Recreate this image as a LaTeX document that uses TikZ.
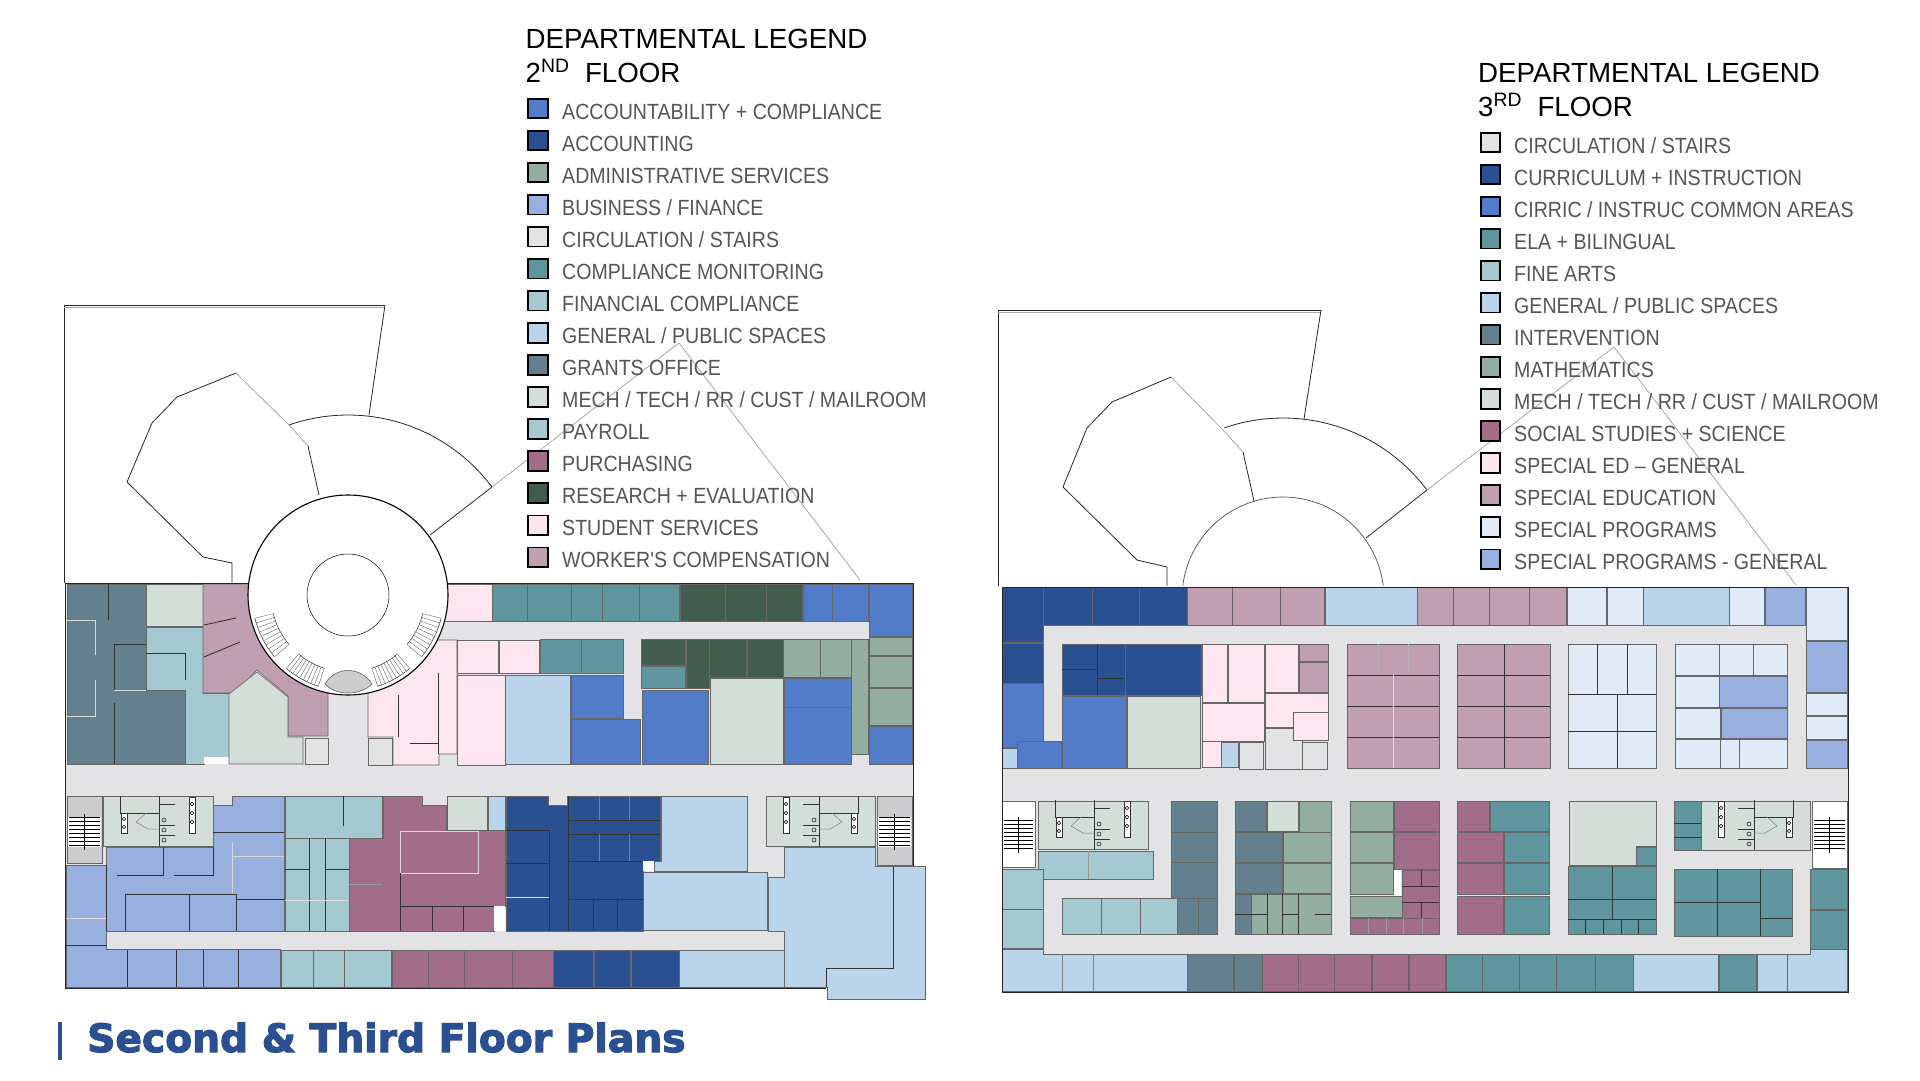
\documentclass[tikz,border=0pt]{standalone}
\usepackage{fontspec}
\setmainfont{Liberation Sans}
\newfontfamily\itemfont[FakeStretch=0.89]{Liberation Sans}
\newfontfamily\titlefont[FakeBold=3,FakeStretch=1.005]{DejaVu Sans Bold}

\definecolor{cAccount}{HTML}{527CC9}
\definecolor{cAcctg}{HTML}{2A5092}
\definecolor{cAdmin}{HTML}{93ADA1}
\definecolor{cBusiness}{HTML}{98B0E0}
\definecolor{cCirc}{HTML}{E3E3E6}
\definecolor{cCompl}{HTML}{5F969D}
\definecolor{cFinance}{HTML}{A5C9D0}
\definecolor{cGeneral}{HTML}{BAD4EC}
\definecolor{cGrants}{HTML}{64808F}
\definecolor{cMech}{HTML}{D3DED9}
\definecolor{cPurch}{HTML}{A16D88}
\definecolor{cResearch}{HTML}{425C4E}
\definecolor{cStudent}{HTML}{FDE6EF}
\definecolor{cWorker}{HTML}{BF9FB0}
\definecolor{cProgram}{HTML}{E0EBF7}
\definecolor{cText}{HTML}{555555}

\tikzset{
	shell/.style={draw=black!85, line width=0.8pt},
	shellpale/.style={draw=black!35, line width=0.8pt},
	roomline/.style={draw=black!60, line width=0.6pt},
	wall/.style={draw=black!80, line width=0.9pt},
	wallpale/.style={draw=white!85!black, line width=1pt},
	swatch/.style={draw=black, line width=1.8pt, minimum size=19.5pt, inner sep=0pt},
	item/.style={anchor=base west, inner sep=0pt, text=cText, font=\itemfont\fontsize{22}{26}\selectfont},
	heading/.style={anchor=base west, inner sep=0pt, font=\fontsize{27.7}{33}\selectfont},
}

% one rectangular room: colour, then two corners
\newcommand{\room}[5]{\path[roomline, fill=#1] (#2,#3) rectangle (#4,#5);}
% toilets block: left edge, top, mirror
\newcommand{\restroom}[3]{
	\begin{scope}[shift={(#1,#2)}, xscale=#3]
		\draw[wall, fill=white] (18,17) rectangle (24,37);
		\draw[wall, fill=white] (86,1) rectangle (92,37);
		\draw[wall] (56,0) -- (56,50);
		\draw[wall] (17,0) -- (17,17) -- (56,17);
		\draw[wall] (56,29) -- (72,29);
		\draw[wall] (56,39) -- (72,39);
		\draw[wall] (56,8) -- (72,8);
		\draw[draw=black!50, line width=0.5pt] (33,26) -- (43,17);
		\draw[draw=black!50, line width=0.5pt] (33,26) -- (45,33) -- (56,33);
		\foreach \ty in {23,31} {\draw[line width=0.5pt] (21,\ty) circle (1.8);}
		\foreach \ty in {8,17,26} {\draw[line width=0.5pt] (89,\ty) circle (1.8);}
		\foreach \ty in {24,34,44} {\draw[line width=0.5pt] (61,\ty) circle (2);}
	\end{scope}
}
% stair well: colour, corners, first tread
\newcommand{\stairwell}[6]{
	\path[roomline, fill=#1] (#2,#3) rectangle (#4,#5);
	\fill[white] (#2+1,#6) rectangle (#4-1,#6+30);
	\foreach \ty in {0,4,...,30} {\draw[line width=0.6pt] (#2+2,#6+\ty) -- (#4-2,#6+\ty);}
	\draw[line width=0.9pt] ({(#2+#4)/2},#6-3) -- ({(#2+#4)/2},#6+33);
}

\begin{document}
\begin{tikzpicture}[x=1pt, y=-1pt]
	\useasboundingbox (0,0) rectangle (1920,1080);

	% ---------- Second floor: outline above the building
	\draw[shell] (64,583) -- (64,305) -- (385,305);
	\draw[shellpale] (64,307) -- (385,307);
	\draw[shell] (385,305) -- (369,415);
	\draw[shell] (232,582) -- (232,563) -- (203,557) -- (127,482) -- (152,423) -- (177,397) -- (236,373);
	\draw[shellpale] (236,373) -- (290,426) -- (308,446);
	\draw[shell] (308,446) -- (319,495);
	\draw[shell, domain=-109:-37, samples=40] plot ({348+180*cos(\x)},{595+180*sin(\x)});
	\draw[shell] (430,535) -- (492,487);
	\draw[shellpale] (492,487) -- (679,343) -- (860,580);

	% ---------- Second floor: circulation under all rooms
	\fill[cCirc] (65,583) rectangle (913,988);

	% top left wing
	\path[roomline, fill=cGrants] (67,584) -- (146,584) -- (146,690) -- (185,690) -- (185,764) -- (67,764) -- cycle;
	\room{cMech}{146}{584}{203}{626}
	\path[roomline, fill=cFinance] (146,627) -- (203,627) -- (203,693) -- (229,693) -- (229,757) -- (204,757) -- (204,764) -- (185,764) -- (185,690) -- (146,690) -- cycle;
	\fill[white] (204,757) rectangle (229,764);
	\path[roomline, fill=cWorker] (203,584) -- (260,584) -- (270,640) -- (320,680) -- (328,692) -- (328,736) -- (288,736) -- (288,696) -- (257,670) -- (235,693) -- (203,693) -- cycle;
	\path[roomline, fill=cMech] (229,694) -- (257,672) -- (288,697) -- (288,737) -- (303,737) -- (303,764) -- (229,764) -- cycle;
	\room{cCirc}{305}{738}{328}{764}
	\room{cCirc}{368}{738}{392}{765}
	\path[roomline, fill=cStudent] (368,692) -- (376,680) -- (430,640) -- (457,640) -- (457,754) -- (439,754) -- (439,765) -- (393,765) -- (393,737) -- (368,737) -- cycle;
	\room{cStudent}{440}{584}{492}{621}
	\room{cStudent}{457}{640}{498}{673}
	\room{cStudent}{499}{640}{539}{673}
	\room{cStudent}{457}{675}{505}{765}
	\draw[wall] (108,584) -- (108,620);
	\path[wallpale] (67,620) -- (95,620) -- (95,655);
	\path[wallpale] (95,680) -- (95,716) -- (67,716);
	\draw[wall] (114,644) -- (146,644);
	\draw[wall] (114,644) -- (114,690);
	\path[wallpale] (114,690) -- (146,690);
	\draw[wall] (114,703) -- (114,764);
	\draw[wall] (146,653) -- (185,653) -- (185,680);
	\draw[wall] (204,625) -- (236,618);
	\draw[wall] (204,657) -- (240,642);
	\draw[wall] (398,695) -- (398,737);
	\draw[wall] (438,673) -- (438,754);
	\draw[wall] (410,743) -- (438,743);

	% top row, second floor
	\foreach \xa/\xb in {492/527,527/571,571/602,602/639,639/679}
		{\room{cCompl}{\xa}{584}{\xb}{621}}
	\foreach \xa/\xb in {680/725,725/766,766/802}
		{\room{cResearch}{\xa}{584}{\xb}{621}}
	\foreach \xa/\xb in {803/832,832/868}
		{\room{cAccount}{\xa}{584}{\xb}{621}}
	\room{cAccount}{869}{584}{912}{636}
	\room{cAdmin}{869}{637}{912}{655}
	\room{cAdmin}{869}{656}{912}{687}
	\room{cAdmin}{869}{688}{912}{725}
	\room{cAccount}{869}{726}{912}{764}

	% middle block
	\room{cCompl}{540}{639}{581}{673}
	\room{cCompl}{581}{639}{623}{673}
	\room{cResearch}{641}{639}{685}{665}
	\room{cCompl}{641}{666}{685}{688}
	\room{cResearch}{686}{639}{709}{688}
	\room{cResearch}{709}{639}{746}{677}
	\room{cResearch}{747}{639}{783}{677}
	\room{cAdmin}{783}{639}{820}{677}
	\room{cAdmin}{820}{639}{851}{677}
	\room{cAdmin}{851}{639}{868}{754}
	\room{cGeneral}{505}{675}{570}{764}
	\room{cAccount}{571}{675}{623}{718}
	\room{cAccount}{571}{719}{640}{764}
	\room{cAccount}{642}{690}{708}{764}
	\room{cMech}{710}{678}{783}{764}
	\room{cAccount}{784}{678}{851}{707}
	\room{cAccount}{784}{707}{851}{764}

	% lower half, west
	\stairwell{cCirc!90!black}{67}{796}{102}{863}{817}
	\room{cMech}{103}{796}{213}{846}
	\restroom{103}{796}{1}
	\path[roomline, fill=cBusiness] (66,865) -- (106,865) -- (106,847) -- (213,847) -- (213,805) -- (232,805) -- (232,796) -- (284,796) -- (284,931) -- (106,931) -- (106,949) -- (280,949) -- (280,987) -- (66,987) -- cycle;
	\draw[wall] (117,875) -- (163,875) -- (163,847);
	\draw[wall] (174,875) -- (213,875) -- (213,847);
	\draw[wall] (106,865) -- (106,931);
	\draw[wall] (125,931) -- (125,894) -- (236,894) -- (236,931);
	\draw[wall] (189,895) -- (189,931);
	\draw[wall] (213,832) -- (284,832);
	\draw[wall] (237,899) -- (284,899);
	\path[wallpale] (232,856) -- (284,856);
	\path[wallpale] (232,843) -- (232,893);
	\path[wallpale] (66,918) -- (106,918);
	\draw[wall] (66,945) -- (107,945);
	\foreach \xa in {127,176,203,238}
		{\draw[wall] (\xa,950) -- (\xa,987);}
	\room{cFinance}{285}{796}{382}{838}
	\room{cFinance}{285}{838}{349}{931}
	\draw[wall] (343,796) -- (343,826);
	\draw[wall] (285,869) -- (309,869);
	\draw[wall] (325,869) -- (349,869);
	\draw[wall] (309,838) -- (309,931);
	\draw[wall] (325,838) -- (325,931);
	\path[wallpale] (285,900) -- (349,900);
	\path[roomline, fill=cPurch] (383,796) -- (422,796) -- (422,805) -- (446,805) -- (446,830) -- (505,830) -- (505,906) -- (494,906) -- (494,931) -- (349,931) -- (349,838) -- (383,838) -- cycle;
	\fill[white] (494,906) rectangle (505,931);
	\path[wallpale] (400,831) rectangle (478,873);
	\draw[wall] (400,873) -- (400,931);
	\draw[wall] (401,906) -- (494,906);
	\draw[wall] (432,906) -- (432,931);
	\draw[wall] (463,906) -- (463,931);
	\draw[draw=black!40, line width=0.9pt] (349,884) -- (382,884);
	\room{cMech}{447}{796}{487}{830}
	\room{cGeneral}{488}{796}{505}{830}
	\foreach \xa/\xb in {281/313,313/344,344/391}
		{\room{cFinance}{\xa}{950}{\xb}{987}}
	\foreach \xa/\xb in {392/428,428/464,464/512,512/553}
		{\room{cPurch}{\xa}{950}{\xb}{987}}
	\foreach \xa/\xb in {553/593,594/630,631/679}
		{\room{cAcctg}{\xa}{950}{\xb}{987}}
	\room{cGeneral}{679}{950}{784}{987}

	% lower half, east
	\path[roomline, fill=cAcctg] (506,796) -- (548,796) -- (548,805) -- (567,805) -- (567,796) -- (660,796) -- (660,861) -- (643,861) -- (643,931) -- (506,931) -- cycle;
	\draw[wall] (506,830) -- (549,830) -- (549,931);
	\draw[wall] (506,863) -- (549,863);
	\path[wallpale] (506,897) -- (549,897);
	\draw[wall] (568,796) -- (568,931);
	\draw[wall] (568,820) -- (660,820);
	\draw[wall] (568,834) -- (660,834);
	\draw[wall] (568,861) -- (643,861);
	\draw[wall] (568,899) -- (643,899);
	\foreach \xa in {593,617}
		{\draw[wall] (\xa,899) -- (\xa,931);}
	\foreach \xa in {599,629}
		{\draw[draw=black!50, line width=0.5pt] (\xa,796) -- (\xa,820) (\xa,834) -- (\xa,861);}
	\fill[white] (643,861) rectangle (654,871);
	\path[roomline, fill=cGeneral] (661,796) -- (747,796) -- (747,871) -- (654,871) -- (654,861) -- (661,861) -- cycle;
	\room{cGeneral}{643}{872}{767}{930}
	\room{cMech}{766}{796}{875}{846}
	\restroom{875}{796}{-1}
	\stairwell{cCirc!90!black}{877}{796}{912}{865}{817}
	\path[roomline, fill=cGeneral] (784,847) -- (875,847) -- (875,866) -- (925,866) -- (925,999) -- (827,999) -- (827,987) -- (784,987) -- (784,931) -- (768,931) -- (768,877) -- (784,877) -- cycle;
	\draw[wall] (893,867) -- (893,968) -- (826,968) -- (826,987);
	\draw[shell] (913,866) -- (913,583) -- (448,583);
	\draw[shell] (248,583) -- (65,583) -- (65,988) -- (826,988);

	% rotunda
	\draw[line width=1.1pt, fill=white] (348,595) circle (100);
	\draw[line width=0.5pt] (348,595) circle (41);
	\foreach \amin/\amax in {108/130,140/166,14/40,50/72}{
		\draw[draw=black!70, line width=0.6pt, domain=\amin:\amax, samples=14] plot ({348+77*cos(\x)},{595+77*sin(\x)});
		\draw[draw=black!70, line width=0.6pt, domain=\amin:\amax, samples=14] plot ({348+96*cos(\x)},{595+96*sin(\x)});
		\foreach \k in {0,...,9}{
			\pgfmathsetmacro{\a}{\amin+(\amax-\amin)*\k/9}
			\draw[draw=black!60, line width=0.4pt] ({348+77*cos(\a)},{595+77*sin(\a)}) -- ({348+96*cos(\a)},{595+96*sin(\a)});
		}
	}
	\fill[black!20, draw=black!70, line width=0.5pt] (325,684) .. controls (335,666) and (361,666) .. (372,684) .. controls (360,696) and (336,696) .. (325,684);

	% ---------- Third floor: outline above the building
	\draw[shell] (998,586) -- (998,310) -- (1321,310);
	\draw[shellpale] (998,312) -- (1321,312);
	\draw[shell] (1321,310) -- (1304,419);
	\draw[shell] (1167,586) -- (1167,567) -- (1137,560) -- (1063,487) -- (1087,428) -- (1112,402) -- (1171,377);
	\draw[shellpale] (1171,377) -- (1223,430) -- (1243,452);
	\draw[shell] (1243,452) -- (1254,501);
	\draw[shell, domain=-109:-37, samples=40] plot ({1283+180*cos(\x)},{598+180*sin(\x)});
	\draw[shell] (1366,538) -- (1427,490);
	\draw[shellpale] (1427,490) -- (1614,347) -- (1796,585);
	\draw[draw=black!70, line width=0.7pt, domain=-173:-7, samples=50] plot ({1283+101*cos(\x)},{598+101*sin(\x)});

	% ---------- Third floor: circulation under all rooms
	\fill[cCirc] (1002,587) rectangle (1848,991);

	% top row and west column
	\room{cAcctg}{1002}{587}{1043}{642}
	\room{cAcctg}{1002}{643}{1043}{683}
	\foreach \xa/\xb in {1043/1092,1092/1139,1139/1187}
		{\room{cAcctg}{\xa}{587}{\xb}{625}}
	\foreach \xa/\xb in {1187/1232,1232/1280,1280/1324,1417/1453,1453/1489,1489/1529,1529/1566}
		{\room{cWorker}{\xa}{587}{\xb}{625}}
	\room{cGeneral}{1325}{587}{1417}{625}
	\foreach \xa/\xb in {1567/1606,1607/1643,1729/1764}
		{\room{cProgram}{\xa}{587}{\xb}{625}}
	\room{cGeneral}{1643}{587}{1729}{625}
	\room{cBusiness}{1765}{587}{1805}{625}
	\room{cProgram}{1806}{587}{1847}{640}
	\room{cBusiness}{1806}{641}{1847}{692}
	\room{cProgram}{1806}{693}{1847}{715}
	\room{cProgram}{1806}{716}{1847}{739}
	\room{cBusiness}{1806}{740}{1847}{768}

	% upper blocks
	\room{cAcctg}{1062}{644}{1125}{695}
	\room{cAcctg}{1125}{644}{1201}{695}
	\draw[wall] (1097,644) -- (1097,695);
	\draw[wall] (1062,669) -- (1097,669);
	\draw[wall] (1098,678) -- (1124,678);
	\room{cAccount}{1002}{683}{1043}{747}
	\room{cGeneral}{1002}{748}{1017}{768}
	\room{cAccount}{1017}{741}{1061}{768}
	\room{cAccount}{1062}{696}{1126}{768}
	\room{cMech}{1127}{696}{1200}{768}
	\room{cStudent}{1202}{644}{1227}{702}
	\room{cStudent}{1228}{644}{1264}{702}
	\room{cStudent}{1202}{703}{1264}{741}
	\room{cStudent}{1202}{741}{1221}{767}
	\room{cGeneral}{1221}{742}{1238}{767}
	\room{cCirc}{1239}{742}{1263}{769}
	\room{cCirc}{1265}{728}{1302}{769}
	\room{cCirc}{1302}{742}{1327}{769}
	\room{cStudent}{1265}{644}{1298}{692}
	\room{cStudent}{1265}{693}{1328}{727}
	\room{cStudent}{1293}{712}{1328}{740}
	\room{cWorker}{1299}{644}{1328}{661}
	\room{cWorker}{1299}{662}{1328}{692}
	\room{cWorker}{1347}{644}{1439}{768}
	\room{cWorker}{1457}{644}{1550}{768}
	\foreach \ya in {675,706,737}{
		\draw[wall] (1347,\ya) -- (1439,\ya);
		\draw[wall] (1457,\ya) -- (1550,\ya);
	}
	\path[wallpale] (1393,675) -- (1393,768);
	\draw[wall] (1504,644) -- (1504,768);
	\draw[draw=black!30, line width=0.5pt] (1378,644) -- (1378,675) (1408,644) -- (1408,675);
	\room{cProgram}{1568}{644}{1656}{768}
	\draw[wall] (1597,644) -- (1597,694);
	\draw[wall] (1627,644) -- (1627,694);
	\draw[wall] (1568,694) -- (1656,694);
	\draw[wall] (1568,731) -- (1656,731);
	\draw[wall] (1617,694) -- (1617,768);
	\room{cProgram}{1675}{644}{1719}{675}
	\room{cProgram}{1719}{644}{1753}{675}
	\room{cProgram}{1753}{644}{1787}{675}
	\room{cProgram}{1675}{676}{1719}{707}
	\room{cBusiness}{1719}{676}{1787}{707}
	\room{cProgram}{1675}{708}{1720}{738}
	\room{cBusiness}{1721}{708}{1787}{738}
	\room{cProgram}{1675}{739}{1720}{768}
	\room{cProgram}{1720}{739}{1739}{768}
	\room{cProgram}{1739}{739}{1787}{768}

	% lower half, west
	\stairwell{white}{1002}{801}{1035}{867}{820}
	\room{cMech}{1038}{801}{1148}{849}
	\restroom{1038}{800}{1}
	\room{cFinance}{1038}{851}{1153}{879}
	\draw[draw=black!40, line width=0.5pt] (1088,851) -- (1088,879);
	\room{cFinance}{1002}{869}{1043}{909}
	\room{cFinance}{1002}{909}{1043}{948}
	\foreach \xa/\xb in {1062/1101,1101/1140,1140/1177}
		{\room{cFinance}{\xa}{898}{\xb}{934}}
	\foreach \ya/\yb in {801/832,832/862,862/898}
		{\room{cGrants}{1171}{\ya}{1217}{\yb}}
	\room{cGrants}{1177}{898}{1198}{934}
	\room{cGrants}{1198}{898}{1217}{934}
	\room{cGrants}{1235}{801}{1266}{831}
	\room{cMech}{1267}{801}{1298}{831}
	\room{cAdmin}{1299}{801}{1331}{832}
	\room{cGrants}{1235}{832}{1282}{862}
	\room{cAdmin}{1283}{832}{1331}{862}
	\room{cGrants}{1235}{863}{1282}{893}
	\room{cAdmin}{1283}{863}{1331}{893}
	\room{cGrants}{1235}{894}{1251}{934}
	\room{cAdmin}{1251}{894}{1331}{934}
	\draw[wall] (1235,914) -- (1267,914);
	\draw[wall] (1282,914) -- (1298,914);
	\draw[wall] (1315,914) -- (1331,914);
	\draw[wall] (1267,894) -- (1267,934);
	\draw[wall] (1282,894) -- (1282,934);
	\draw[wall] (1298,894) -- (1298,934);
	\room{cAdmin}{1350}{801}{1393}{831}
	\room{cAdmin}{1350}{832}{1393}{862}
	\room{cAdmin}{1350}{863}{1393}{894}
	\room{cAdmin}{1350}{896}{1402}{917}
	\room{cPurch}{1394}{801}{1439}{831}
	\room{cPurch}{1394}{832}{1439}{869}
	\room{cPurch}{1402}{870}{1439}{918}
	\fill[white] (1394,870) rectangle (1401,896);
	\draw[wall] (1421,870) -- (1421,886);
	\draw[wall] (1421,902) -- (1421,918);
	\draw[wall] (1402,886) -- (1439,886);
	\draw[wall] (1402,902) -- (1439,902);
	\room{cPurch}{1350}{918}{1439}{934}
	\foreach \xa in {1368,1386,1403,1422}
		{\draw[draw=black!40, line width=0.5pt] (\xa,918) -- (\xa,934);}

	% lower half, east
	\room{cPurch}{1457}{801}{1489}{831}
	\room{cCompl}{1490}{801}{1549}{831}
	\foreach \ya/\yb in {832/862,863/894,896/934}{
		\room{cPurch}{1457}{\ya}{1503}{\yb}
		\room{cCompl}{1504}{\ya}{1549}{\yb}
	}
	\path[roomline, fill=cMech] (1569,801) -- (1656,801) -- (1656,846) -- (1636,846) -- (1636,865) -- (1569,865) -- cycle;
	\room{cCompl}{1636}{847}{1656}{865}
	\room{cCompl}{1568}{866}{1656}{934}
	\draw[wall] (1612,866) -- (1612,919);
	\draw[wall] (1568,899) -- (1656,899);
	\draw[wall] (1568,919) -- (1656,919);
	\foreach \xa in {1585,1603,1621,1638}
		{\draw[wall] (\xa,919) -- (\xa,934);}
	\room{cCompl}{1674}{801}{1701}{850}
	\draw[wall] (1674,823) -- (1701,823);
	\draw[wall] (1674,837) -- (1701,837);
	\room{cMech}{1701}{801}{1810}{850}
	\restroom{1810}{800}{-1}
	\stairwell{white}{1812}{801}{1847}{868}{820}
	\room{cCompl}{1674}{869}{1792}{936}
	\draw[wall] (1717,869) -- (1717,936);
	\draw[wall] (1760,869) -- (1760,936);
	\draw[wall] (1674,902) -- (1760,902);
	\draw[wall] (1760,918) -- (1792,918);
	\room{cCompl}{1810}{869}{1847}{909}
	\room{cCompl}{1810}{910}{1847}{949}

	% bottom row, third floor
	\path[roomline, fill=cGeneral] (1002,949) -- (1043,949) -- (1043,954) -- (1187,954) -- (1187,991) -- (1002,991) -- cycle;
	\draw[draw=black!50, line width=0.6pt] (1062,954) -- (1062,991) (1093,954) -- (1093,991);
	\foreach \xa/\xb in {1187/1233,1234/1262}
		{\room{cGrants}{\xa}{954}{\xb}{991}}
	\foreach \xa/\xb in {1262/1298,1298/1334,1334/1371,1372/1408,1409/1445}
		{\room{cPurch}{\xa}{954}{\xb}{991}}
	\foreach \xa/\xb in {1446/1482,1482/1519,1519/1556,1556/1595,1595/1633,1719/1756}
		{\room{cCompl}{\xa}{954}{\xb}{991}}
	\room{cGeneral}{1633}{954}{1718}{991}
	\room{cGeneral}{1757}{954}{1787}{991}
	\path[roomline, fill=cGeneral] (1810,949) -- (1847,949) -- (1847,991) -- (1787,991) -- (1787,954) -- (1810,954) -- cycle;
	\draw[shell] (1002,587) rectangle (1848,992);

	% ---------- Legends
	\node (heada) at (525.5,48) [heading] {DEPARTMENTAL LEGEND};
	\node (subha) at (525.5,82) [heading] {2\textsuperscript{ND}\ \ FLOOR};
	\foreach \scol/\stxt [count=\i from 0] in {
		cAccount/{ACCOUNTABILITY + COMPLIANCE},
		cAcctg/{ACCOUNTING},
		cAdmin/{ADMINISTRATIVE SERVICES},
		cBusiness/{BUSINESS / FINANCE},
		cCirc/{CIRCULATION / STAIRS},
		cCompl/{COMPLIANCE MONITORING},
		cFinance/{FINANCIAL COMPLIANCE},
		cGeneral/{GENERAL / PUBLIC SPACES},
		cGrants/{GRANTS OFFICE},
		cMech/{MECH / TECH / RR / CUST / MAILROOM},
		cFinance/{PAYROLL},
		cPurch/{PURCHASING},
		cResearch/{RESEARCH + EVALUATION},
		cStudent/{STUDENT SERVICES},
		cWorker/{WORKER'S COMPENSATION}}{
		\node (swa\i) at (538,{108.5+32.05*\i}) [swatch, fill=\scol] {};
		\node (ita\i) at (562,{119+32.05*\i}) [item] {\stxt};
	}

	\node (headb) at (1478,82) [heading] {DEPARTMENTAL LEGEND};
	\node (subhb) at (1478,116) [heading] {3\textsuperscript{RD}\ \ FLOOR};
	\foreach \scol/\stxt [count=\i from 0] in {
		cCirc/{CIRCULATION / STAIRS},
		cAcctg/{CURRICULUM + INSTRUCTION},
		cAccount/{CIRRIC / INSTRUC COMMON AREAS},
		cCompl/{ELA + BILINGUAL},
		cFinance/{FINE ARTS},
		cGeneral/{GENERAL / PUBLIC SPACES},
		cGrants/{INTERVENTION},
		cAdmin/{MATHEMATICS},
		cMech/{MECH / TECH / RR / CUST / MAILROOM},
		cPurch/{SOCIAL STUDIES + SCIENCE},
		cStudent/{SPECIAL ED – GENERAL},
		cWorker/{SPECIAL EDUCATION},
		cProgram/{SPECIAL PROGRAMS},
		cBusiness/{SPECIAL PROGRAMS - GENERAL}}{
		\node (swb\i) at (1490.5,{142.5+32.05*\i}) [swatch, fill=\scol] {};
		\node (itb\i) at (1514,{153+32.05*\i}) [item] {\stxt};
	}

	% ---------- Title
	\fill[cAcctg] (58,1022) rectangle (62,1060);
	\node (title) at (87,1052) [anchor=base west, inner sep=0pt, text=cAcctg, font=\titlefont\fontsize{39}{44}\selectfont] {Second \& Third Floor Plans};

\end{tikzpicture}
\end{document}
